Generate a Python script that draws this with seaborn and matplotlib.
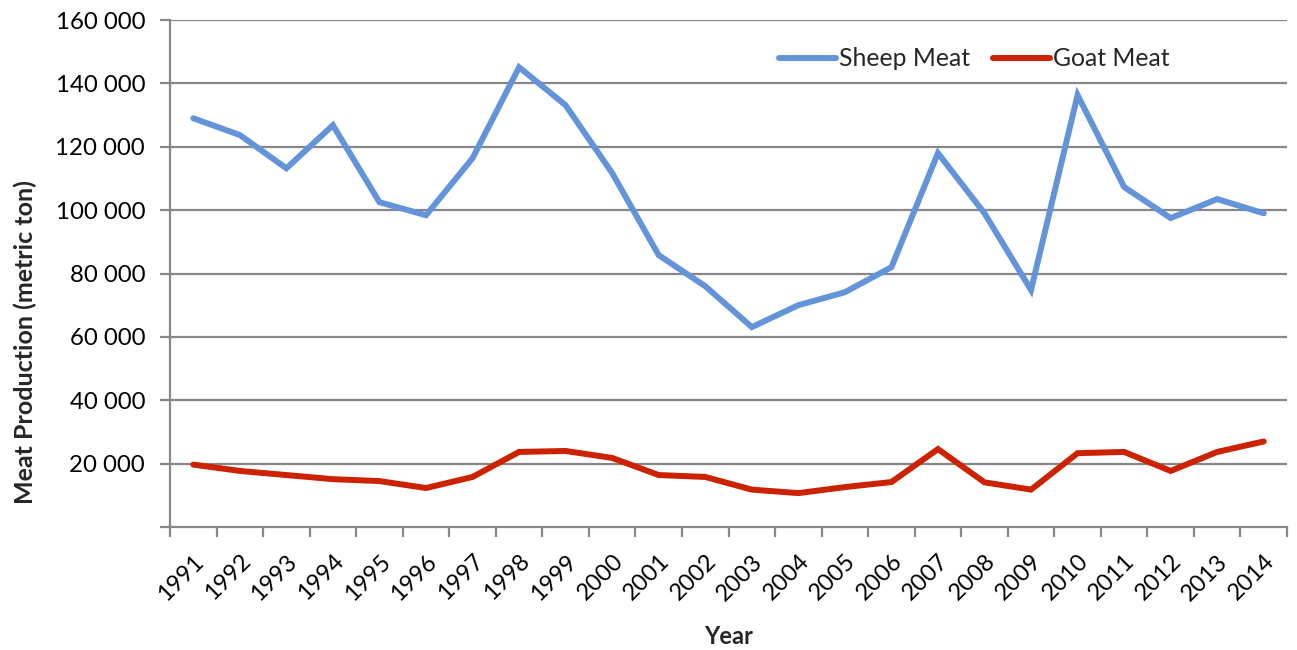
import numpy as np
import pandas as pd
import matplotlib
matplotlib.use("Agg")
import matplotlib.pyplot as plt
from matplotlib.ticker import FixedLocator, FuncFormatter
import seaborn as sns

years = [str(y) for y in range(1991, 2015)]
sheep_meat = [129000, 123700, 113200, 126800, 102500, 98400, 116400, 145100,
              133100, 111700, 85800, 76000, 63100, 70000, 74100, 82000,
              118000, 99000, 74800, 136300, 107300, 97500, 103500, 99000]
goat_meat = [19700, 17700, 16400, 15100, 14500, 12300, 15800, 23700,
             24000, 21800, 16400, 15800, 11800, 10700, 12600, 14200,
             24600, 14100, 11800, 23300, 23700, 17700, 23700, 27000]
series_names = ["Sheep Meat", "Goat Meat"]
y_ticks = list(range(0, 160001, 20000))

sns.set_theme(style="white")
plt.rcParams["font.family"] = ["Lato", "DejaVu Sans"]

df = pd.DataFrame({
    "pos": list(range(len(years))) * 2,
    "value": sheep_meat + goat_meat,
    "series": [series_names[0]] * len(years) + [series_names[1]] * len(years),
})

fig = plt.figure(figsize=(12.97, 6.5), dpi=100)
ax = fig.add_axes([0.1311, 0.1892, 0.8612, 0.7800])

palette = {"Sheep Meat": "#6394DA", "Goat Meat": "#CC2200"}
sns.lineplot(data=df, x="pos", y="value", hue="series", palette=palette,
             linewidth=4.3, ax=ax, legend=True)
for ln in ax.lines:
    ln.set_solid_capstyle("round")
    ln.set_solid_joinstyle("miter")

grid_c = "#878787"
ax.set_xlim(-0.5, len(years) - 0.5)
ax.set_ylim(0, 160000)

ax.yaxis.set_major_locator(FixedLocator(y_ticks))
ax.yaxis.set_major_formatter(FuncFormatter(
    lambda v, p: "" if v == 0 else f"{int(v):,}".replace(",", " ")))
for v in y_ticks[1:]:
    ax.axhline(v, color=grid_c, linewidth=1.6, zorder=0)

ax.set_xticks(range(len(years)))
ax.set_xticklabels(years, rotation=45, ha="right", rotation_mode="anchor")
ax.set_xticks(np.arange(-0.5, len(years), 1.0), minor=True)
ax.tick_params(axis="x", which="major", length=0, pad=17, labelsize=17,
               colors="black")
ax.tick_params(axis="x", which="minor", length=7, width=1.6, color=grid_c,
               bottom=True)
ax.tick_params(axis="y", which="major", length=7, width=1.6, color=grid_c,
               left=True, labelsize=17.3, pad=11, labelcolor="black")

for side in ["top", "right"]:
    ax.spines[side].set_visible(False)
for side in ["left", "bottom"]:
    ax.spines[side].set_color(grid_c)
    ax.spines[side].set_linewidth(1.6)

ax.set_xlabel("Year", fontsize=17, fontweight="bold")
ax.xaxis.set_label_coords(0.5, -0.193)
ax.set_ylabel("Meat Production (metric ton)", fontsize=18, fontweight="bold")
ax.yaxis.set_label_coords(-0.119, 0.365)

leg = ax.legend(loc="upper left", bbox_to_anchor=(0.525, 0.99), ncol=2,
                frameon=False, fontsize=17.8, handlelength=2.3,
                handletextpad=0.12, columnspacing=0.95, title=None)
for h in leg.get_lines():
    h.set_linewidth(4.3)

fig.savefig("out.png", dpi=100)
